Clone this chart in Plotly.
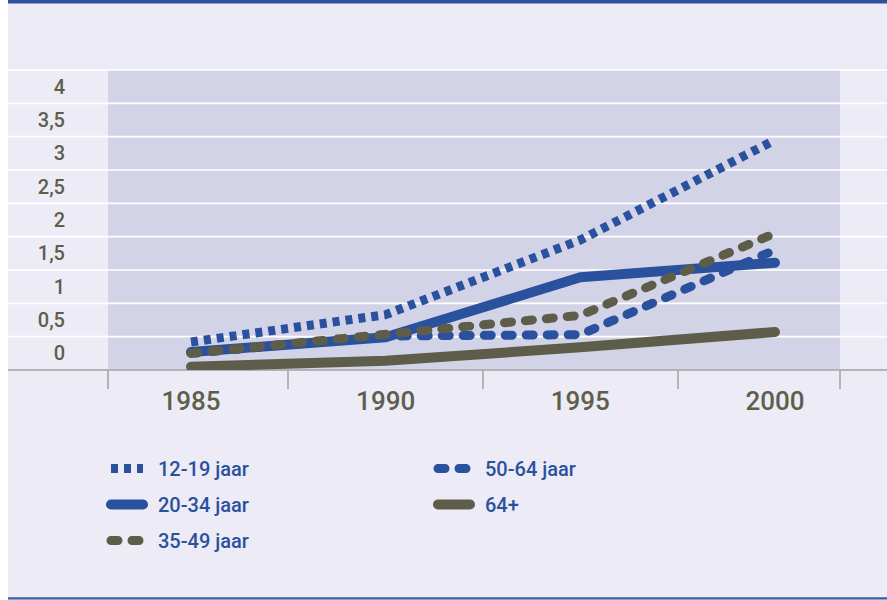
import plotly.graph_objects as go

# ---- data ----
years = [1985, 1990, 1995, 2000]
tick_years = [1985, 1990, 1995, 2000]
series_names = ["12-19 jaar", "20-34 jaar", "35-49 jaar", "50-64 jaar", "64+"]
v_12_19 = [0.17, 0.58, 1.70, 3.20]
v_20_34 = [0.02, 0.24, 1.14, 1.36]
v_35_49 = [0.00, 0.27, 0.57, 1.80]
v_50_64 = [0.00, 0.26, 0.28, 1.55]
v_64p = [-0.20, -0.11, 0.09, 0.32]
y_tickvals = [0, 0.5, 1, 1.5, 2, 2.5, 3, 3.5, 4]
y_ticktext = ["0", "0,5", "1", "1,5", "2", "2,5", "3", "3,5", "4"]

# ---- style ----
W, H = 887, 600
ML, MR, MT, MB = 108, 47, 70, 230
PW, PH = W - ML - MR, H - MT - MB
BLUE = "#2A519E"
OLIVE = "#5E5D4A"
PAPER = "#EDEBF5"
PLOTBG = "#D3D3E8"
GRID = "#FFFFFF"
AXIS = "#B4B2B6"
TXT = "#5E5E4C"
YR = [-0.25, 4.25]
XR = [1982.868, 2001.67]


def px_x(p):
    return (p - ML) / PW


def px_y(p):
    return (H - MB - p) / PH


def vy(v):
    return (v - YR[0]) / (YR[1] - YR[0])


fig = go.Figure()

styles = {
    "12-19 jaar": dict(color=BLUE, width=9, dash="7px,6px"),
    "20-34 jaar": dict(color=BLUE, width=10, dash="solid"),
    "35-49 jaar": dict(color=OLIVE, width=9, dash="7px,14px"),
    "50-64 jaar": dict(color=BLUE, width=9, dash="7px,14px"),
    "64+": dict(color=OLIVE, width=10, dash="solid"),
}
values = {
    "12-19 jaar": v_12_19,
    "20-34 jaar": v_20_34,
    "35-49 jaar": v_35_49,
    "50-64 jaar": v_50_64,
    "64+": v_64p,
}
legend_of = {"12-19 jaar": ("legend", 1), "20-34 jaar": ("legend", 2), "35-49 jaar": ("legend", 3),
             "50-64 jaar": ("legend2", 1), "64+": ("legend2", 2)}
draw_order = ["64+", "50-64 jaar", "20-34 jaar", "35-49 jaar", "12-19 jaar"]

for name in draw_order:
    lg, rank = legend_of[name]
    fig.add_trace(go.Scatter(
        x=years, y=values[name], name=name, mode="lines",
        line=dict(**styles[name]),
        legend=lg, legendrank=rank, legendgroup=name,
        hoverinfo="skip",
    ))

shapes = []
# white strip on the far left
shapes.append(dict(type="rect", xref="paper", yref="paper", x0=px_x(0), x1=px_x(8),
                   y0=px_y(H), y1=px_y(0), fillcolor="white", line=dict(width=0), layer="below"))
# plot area shading
shapes.append(dict(type="rect", xref="paper", yref="paper", x0=0, x1=1, y0=0, y1=1,
                   fillcolor=PLOTBG, line=dict(width=0), layer="below"))
# band grid lines spanning full width
k = 0.25
while k <= 4.25 + 1e-9:
    shapes.append(dict(type="line", xref="paper", yref="paper", x0=px_x(8), x1=px_x(W),
                       y0=vy(k), y1=vy(k), line=dict(color=GRID, width=1.6), layer="below"))
    k += 0.5
# axis base line
shapes.append(dict(type="line", xref="paper", yref="paper", x0=px_x(8), x1=px_x(W),
                   y0=0, y1=0, line=dict(color=AXIS, width=2), layer="below"))
# top and bottom blue rules
shapes.append(dict(type="rect", xref="paper", yref="paper", x0=px_x(8), x1=px_x(W),
                   y0=px_y(3.5), y1=px_y(0), fillcolor="#2D509C", line=dict(width=0), layer="above"))
shapes.append(dict(type="rect", xref="paper", yref="paper", x0=px_x(8), x1=px_x(W),
                   y0=px_y(599.5), y1=px_y(597.3), fillcolor="#3A5DA6", line=dict(width=0), layer="above"))

legend_font = dict(family="Roboto", size=20, color=BLUE, weight=500)
fig.update_layout(
    width=W, height=H,
    margin=dict(l=ML, r=MR, t=MT, b=MB, pad=0),
    paper_bgcolor=PAPER, plot_bgcolor="rgba(0,0,0,0)",
    shapes=shapes,
    xaxis=dict(range=XR, showgrid=False, zeroline=False, showline=False,
               tickvals=tick_years, ticktext=[str(t) for t in tick_years],
               ticks="outside", ticklen=8, tickcolor="rgba(0,0,0,0)",
               tickfont=dict(family="Roboto", size=26, color=TXT, weight=500),
               minor=dict(tickvals=[XR[0] + 0.01, 1987.5, 1992.5, 1997.5, XR[1] - 0.01],
                          ticks="outside", ticklen=18, tickwidth=1.5, tickcolor=AXIS, showgrid=False),
               fixedrange=True),
    yaxis=dict(range=YR, showgrid=False, zeroline=False, showline=False,
               tickvals=y_tickvals, ticktext=y_ticktext,
               ticks="outside", ticklen=38, tickcolor="rgba(0,0,0,0)",
               tickfont=dict(family="Roboto", size=20, color=TXT, weight=500), fixedrange=True),
    legend=dict(x=px_x(103), y=px_y(449), xanchor="left", yanchor="top",
                orientation="v", bgcolor="rgba(0,0,0,0)", tracegroupgap=7, itemwidth=45,
                font=legend_font),
    legend2=dict(x=px_x(430), y=px_y(449), xanchor="left", yanchor="top",
                 orientation="v", bgcolor="rgba(0,0,0,0)", tracegroupgap=7, itemwidth=45,
                 font=legend_font),
    showlegend=True,
)

post = """
var gd = document.getElementById('{plot_id}');
function traceOf(p){
  var g = p.parentNode;
  while (g && g !== gd) {
    var d = g.__data__;
    if (d && d[0] && d[0].trace) return d[0].trace;
    if (d && d.trace) return d.trace;
    g = g.parentNode;
  }
  return null;
}
function fixCaps(){
  gd.querySelectorAll('path.js-line').forEach(function(p){
    var tr = traceOf(p);
    var nm = tr ? tr.name : '';
    p.style.strokeLinecap = (nm === '12-19 jaar') ? 'butt' : 'round';
    p.style.strokeLinejoin = 'round';
    if (p.closest('.legendlines')) {
      var d = p.getAttribute('d') || '';
      if (p.getAttribute('data-short') !== d) {
        var m = d.match(/^M([-\\d.]+),([-\\d.]+)h([-\\d.]+)$/);
        if (m) {
          var x0 = parseFloat(m[1]), y0 = parseFloat(m[2]), L = parseFloat(m[3]);
          var nd = 'M' + (x0 + 3) + ',' + y0 + 'h' + (L - 13);
          p.setAttribute('d', nd);
          p.setAttribute('data-short', nd);
        }
      }
    }
  });
}
fixCaps();
gd.on('plotly_afterplot', fixCaps);
"""

fig.write_html("out.html", post_script=post, config={"displayModeBar": False})
